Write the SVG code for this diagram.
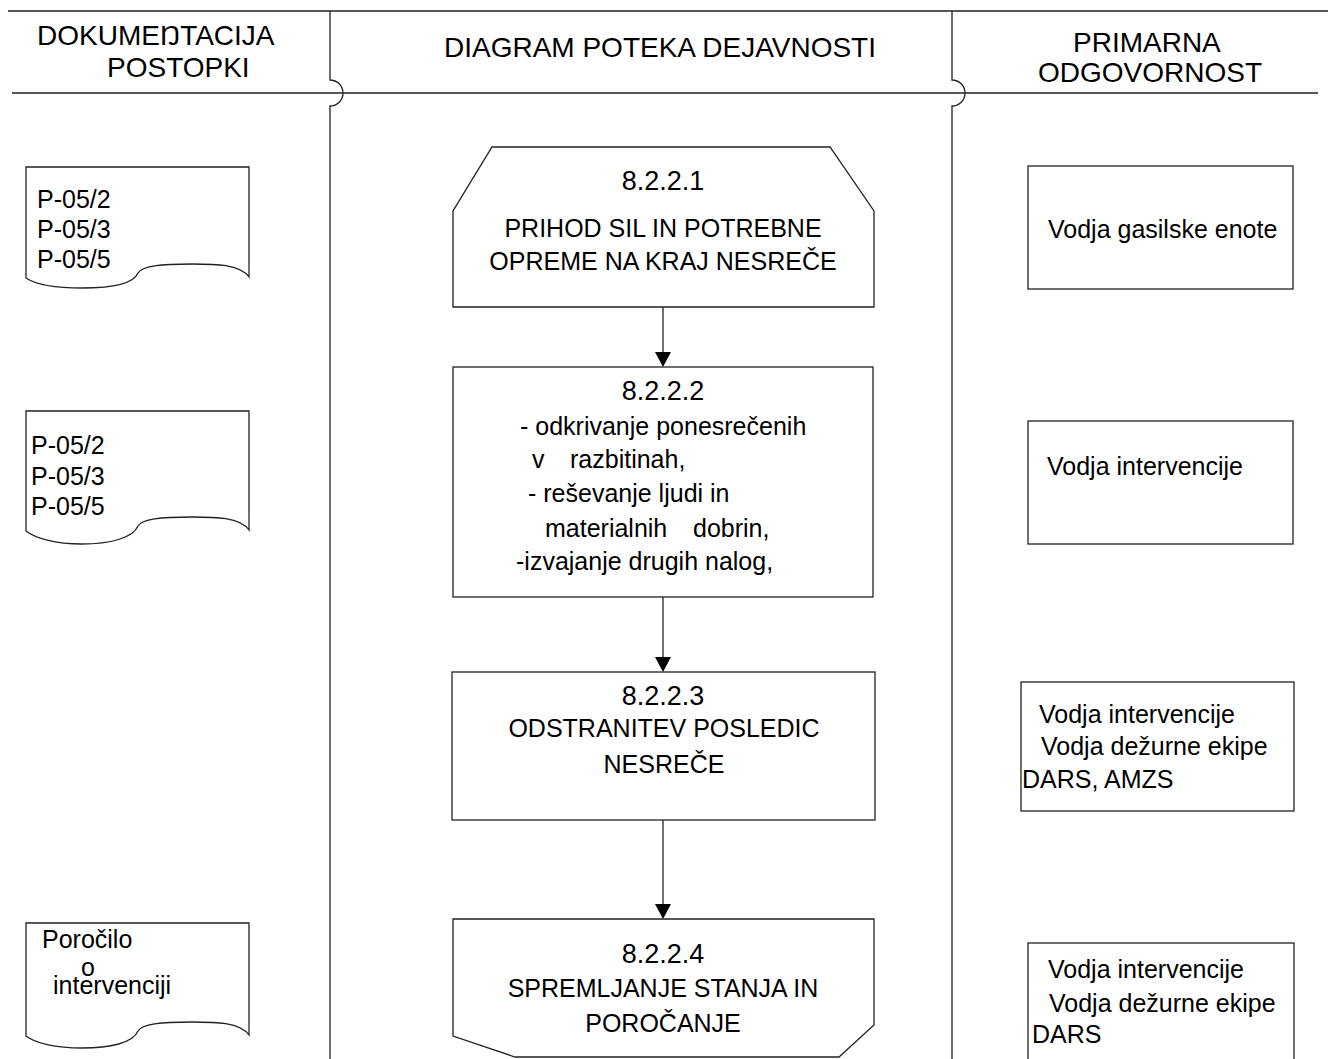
<svg xmlns="http://www.w3.org/2000/svg" width="1328" height="1059" viewBox="0 0 1328 1059">
<style>
text{font-family:"Liberation Sans",Arial,sans-serif;fill:#000}
.h{font-size:28px}
.b{font-size:25px}
.n{font-size:27px}
.c{text-anchor:middle}
.shape{fill:#fff;stroke:#222;stroke-width:1.3}
.line{fill:none;stroke:#222;stroke-width:1.3}
</style>
<defs>
<marker id="arr" markerWidth="16" markerHeight="15" refX="8" refY="15" orient="auto" markerUnits="userSpaceOnUse" viewBox="0 0 16 15">
<path d="M0,0 L16,0 L8,15 Z" fill="#000" transform="rotate(-90 8 7.5) translate(0.5,0)"/>
</marker>
</defs>
<g id="frame">
<line class="line" x1="8" y1="11" x2="1328" y2="11"/>
<line class="line" x1="12" y1="93" x2="1318" y2="93"/>
<path class="line" d="M330,11 V80 A13,13 0 0 1 330,106 V1059"/>
<path class="line" d="M952,11 V80 A13,13 0 0 1 952,106 V1059"/>
<text class="h" x="37" y="45">DOKUMEŊTACIJA</text>
<text class="h" x="107" y="77">POSTOPKI</text>
<text class="h c" x="660" y="57">DIAGRAM POTEKA DEJAVNOSTI</text>
<text class="h" x="1073" y="52">PRIMARNA</text>
<text class="h" x="1038" y="82">ODGOVORNOST</text>
</g>
<g id="doc1">
<path class="shape" d="M26,167 H249 V277 C240,264 215,264 192,264 C160,264 142,266 138,273 C133,285 110,288 82,288 C55,288 35,284 26,278 Z"/>
<text class="b" x="37" y="208">P-05/2</text>
<text class="b" x="37" y="238">P-05/3</text>
<text class="b" x="37" y="268">P-05/5</text>
</g>
<g id="doc2">
<path class="shape" d="M26,411 H249 V530 C240,517 215,517 192,517 C160,517 142,519 138,526 C133,538 110,544 82,544 C55,544 35,538 26,531 Z"/>
<text class="b" x="31" y="454">P-05/2</text>
<text class="b" x="31" y="485">P-05/3</text>
<text class="b" x="31" y="515">P-05/5</text>
</g>
<g id="doc3">
<path class="shape" d="M26,923 H249 V1035 C240,1022 215,1022 192,1022 C160,1022 142,1024 138,1031 C133,1043 110,1048 82,1048 C55,1048 35,1043 26,1036 Z"/>
<text class="b" x="42" y="948">Poročilo</text>
<text class="b" x="81" y="976">o</text>
<text class="b" x="53" y="994">intervenciji</text>
</g>
<g id="connectors">
<line class="line" x1="663" y1="307" x2="663" y2="353"/>
<path d="M655,352 L671,352 L663,367 Z" fill="#000"/>
<line class="line" x1="663" y1="597" x2="663" y2="658"/>
<path d="M655,657 L671,657 L663,672 Z" fill="#000"/>
<line class="line" x1="663" y1="820" x2="663" y2="905"/>
<path d="M655,904 L671,904 L663,919 Z" fill="#000"/>
</g>
<g id="node1">
<polygon class="shape" points="492,147 830,147 874,211 874,307 453,307 453,211"/>
<text class="n c" x="663" y="190">8.2.2.1</text>
<text class="b c" x="663" y="237">PRIHOD SIL IN POTREBNE</text>
<text class="b c" x="663" y="270">OPREME NA KRAJ NESREČE</text>
</g>
<g id="node2">
<rect class="shape" x="453" y="367" width="420" height="230"/>
<text class="n c" x="663" y="400">8.2.2.2</text>
<text class="b" x="520" y="435">- odkrivanje ponesrečenih</text>
<text class="b" y="468"><tspan x="532">v</tspan><tspan x="570">razbitinah,</tspan></text>
<text class="b" x="528" y="502">- reševanje ljudi in</text>
<text class="b" y="537"><tspan x="545">materialnih</tspan><tspan x="693">dobrin,</tspan></text>
<text class="b" x="516" y="570">-izvajanje drugih nalog,</text>
</g>
<g id="node3">
<rect class="shape" x="452" y="672" width="423" height="148"/>
<text class="n c" x="663" y="705">8.2.2.3</text>
<text class="b c" x="664" y="737">ODSTRANITEV POSLEDIC</text>
<text class="b c" x="664" y="773">NESREČE</text>
</g>
<g id="node4">
<polygon class="shape" points="453,919 874,919 874,1025 839,1057 515,1057 453,1036"/>
<text class="n c" x="663" y="963">8.2.2.4</text>
<text class="b c" x="663" y="997">SPREMLJANJE STANJA IN</text>
<text class="b c" x="663" y="1032">POROČANJE</text>
</g>
<g id="resp1">
<rect class="shape" x="1028" y="166" width="265" height="123"/>
<text class="b" x="1048" y="238">Vodja gasilske enote</text>
</g>
<g id="resp2">
<rect class="shape" x="1028" y="421" width="265" height="123"/>
<text class="b" x="1047" y="475">Vodja intervencije</text>
</g>
<g id="resp3">
<rect class="shape" x="1021" y="682" width="273" height="129"/>
<text class="b" x="1039" y="723">Vodja intervencije</text>
<text class="b" x="1041" y="755">Vodja dežurne ekipe</text>
<text class="b" x="1022" y="788">DARS, AMZS</text>
</g>
<g id="resp4">
<rect class="shape" x="1028" y="943" width="266" height="130"/>
<text class="b" x="1048" y="978">Vodja intervencije</text>
<text class="b" x="1049" y="1012">Vodja dežurne ekipe</text>
<text class="b" x="1032" y="1043">DARS</text>
</g>
</svg>
